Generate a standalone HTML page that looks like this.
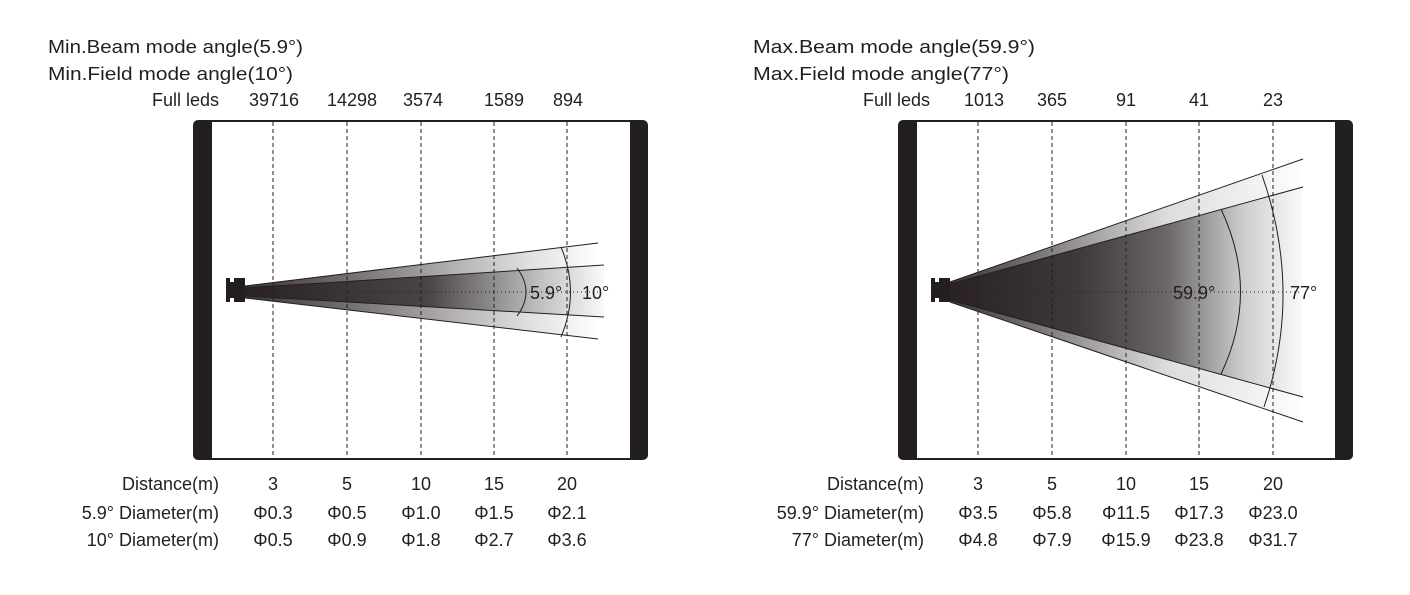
<!DOCTYPE html>
<html><head><meta charset="utf-8"><style>
html,body{margin:0;padding:0;background:#fff;}
svg{display:block;}
text{font-family:"Liberation Sans",Arial,sans-serif;font-size:18px;fill:#231f20;}
</style></head><body>
<svg width="1410" height="595" viewBox="0 0 1410 595" xmlns="http://www.w3.org/2000/svg">
<defs>
<linearGradient id="gL" gradientUnits="userSpaceOnUse" x1="245" y1="0" x2="610" y2="0">
<stop offset="0" stop-color="#2a2222"/><stop offset="0.5" stop-color="#4a4444"/><stop offset="0.8" stop-color="#bdbdbd"/><stop offset="1" stop-color="#ffffff"/></linearGradient>
<linearGradient id="gLo" gradientUnits="userSpaceOnUse" x1="245" y1="0" x2="600" y2="0">
<stop offset="0" stop-color="#3a3333"/><stop offset="0.4" stop-color="#8a8686"/><stop offset="0.8" stop-color="#e0e0e0"/><stop offset="1" stop-color="#ffffff"/></linearGradient>
<linearGradient id="gR" gradientUnits="userSpaceOnUse" x1="950" y1="0" x2="1310" y2="0">
<stop offset="0" stop-color="#2a2222"/><stop offset="0.35" stop-color="#3e3838"/><stop offset="0.6" stop-color="#6a6666"/><stop offset="0.82" stop-color="#cfcfcf"/><stop offset="1" stop-color="#ffffff"/></linearGradient>
<linearGradient id="gRo" gradientUnits="userSpaceOnUse" x1="950" y1="0" x2="1310" y2="0">
<stop offset="0" stop-color="#3a3333"/><stop offset="0.3" stop-color="#8a8686"/><stop offset="0.6" stop-color="#dcdcdc"/><stop offset="1" stop-color="#ffffff"/></linearGradient>
</defs>

<!-- LEFT PANEL -->
<text x="48" y="53" textLength="255" lengthAdjust="spacingAndGlyphs">Min.Beam mode angle(5.9°)</text>
<text x="48" y="80" textLength="245" lengthAdjust="spacingAndGlyphs">Min.Field mode angle(10°)</text>
<g text-anchor="end"><text x="219" y="106">Full leds</text>
<text x="219" y="490">Distance(m)</text>
<text x="219" y="519">5.9° Diameter(m)</text>
<text x="219" y="546">10° Diameter(m)</text></g>
<g text-anchor="middle">
<text x="274" y="106">39716</text><text x="352" y="106">14298</text><text x="423" y="106">3574</text><text x="504" y="106">1589</text><text x="568" y="106">894</text>
<text x="273" y="490">3</text><text x="347" y="490">5</text><text x="421" y="490">10</text><text x="494" y="490">15</text><text x="567" y="490">20</text>
<text x="273" y="519">Φ0.3</text><text x="347" y="519">Φ0.5</text><text x="421" y="519">Φ1.0</text><text x="494" y="519">Φ1.5</text><text x="567" y="519">Φ2.1</text>
<text x="273" y="546">Φ0.5</text><text x="347" y="546">Φ0.9</text><text x="421" y="546">Φ1.8</text><text x="494" y="546">Φ2.7</text><text x="567" y="546">Φ3.6</text>
</g>
<rect x="193" y="120" width="455" height="340" rx="5" fill="#231f20"/>
<rect x="212" y="122" width="418" height="336" fill="#fff"/>
<polygon points="245,286 598,243 598,339 245,298" fill="url(#gLo)"/>
<polygon points="245,288 604,265 604,317 245,296" fill="url(#gL)"/>
<g stroke="#231f20" stroke-width="1" fill="none">
<line x1="245" y1="286" x2="598" y2="243"/><line x1="245" y1="298" x2="598" y2="339"/>
<line x1="245" y1="288" x2="604" y2="265"/><line x1="245" y1="296" x2="604" y2="317"/>
<path d="M517,268 Q535,292 517,316"/><path d="M561,247 Q580,292 561,337"/>
<line x1="245" y1="292" x2="600" y2="292" stroke-dasharray="1,3"/>
<g stroke-dasharray="4,3"><line x1="273" y1="122" x2="273" y2="458"/><line x1="347" y1="122" x2="347" y2="458"/><line x1="421" y1="122" x2="421" y2="458"/><line x1="494" y1="122" x2="494" y2="458"/><line x1="567" y1="122" x2="567" y2="458"/></g>
</g>
<path d="M226,278 h4 v4 h4 v-4 h11 v24 h-11 v-4 h-4 v4 h-4z" fill="#231f20"/>
<text x="530" y="299">5.9°</text><text x="582" y="299">10°</text>

<!-- RIGHT PANEL -->
<text x="753" y="53" textLength="282" lengthAdjust="spacingAndGlyphs">Max.Beam mode angle(59.9°)</text>
<text x="753" y="80" textLength="256" lengthAdjust="spacingAndGlyphs">Max.Field mode angle(77°)</text>
<g text-anchor="end"><text x="930" y="106">Full leds</text>
<text x="924" y="490">Distance(m)</text>
<text x="924" y="519">59.9° Diameter(m)</text>
<text x="924" y="546">77° Diameter(m)</text></g>
<g text-anchor="middle">
<text x="984" y="106">1013</text><text x="1052" y="106">365</text><text x="1126" y="106">91</text><text x="1199" y="106">41</text><text x="1273" y="106">23</text>
<text x="978" y="490">3</text><text x="1052" y="490">5</text><text x="1126" y="490">10</text><text x="1199" y="490">15</text><text x="1273" y="490">20</text>
<text x="978" y="519">Φ3.5</text><text x="1052" y="519">Φ5.8</text><text x="1126" y="519">Φ11.5</text><text x="1199" y="519">Φ17.3</text><text x="1273" y="519">Φ23.0</text>
<text x="978" y="546">Φ4.8</text><text x="1052" y="546">Φ7.9</text><text x="1126" y="546">Φ15.9</text><text x="1199" y="546">Φ23.8</text><text x="1273" y="546">Φ31.7</text>
</g>
<rect x="898" y="120" width="455" height="340" rx="5" fill="#231f20"/>
<rect x="917" y="122" width="418" height="336" fill="#fff"/>
<polygon points="950,282 1303,159 1303,422 950,302" fill="url(#gRo)"/>
<polygon points="950,284 1303,187 1303,397 950,300" fill="url(#gR)"/>
<g stroke="#231f20" stroke-width="1" fill="none">
<line x1="950" y1="282" x2="1303" y2="159"/><line x1="950" y1="302" x2="1303" y2="422"/>
<line x1="950" y1="284" x2="1303" y2="187"/><line x1="950" y1="300" x2="1303" y2="397"/>
<path d="M1221,209 Q1260,292 1221,374"/><path d="M1262,175 Q1303,292 1264,407"/>
<line x1="950" y1="292" x2="1300" y2="292" stroke-dasharray="1,3"/>
<g stroke-dasharray="4,3"><line x1="978" y1="122" x2="978" y2="458"/><line x1="1052" y1="122" x2="1052" y2="458"/><line x1="1126" y1="122" x2="1126" y2="458"/><line x1="1199" y1="122" x2="1199" y2="458"/><line x1="1273" y1="122" x2="1273" y2="458"/></g>
</g>
<path d="M931,278 h4 v4 h4 v-4 h11 v24 h-11 v-4 h-4 v4 h-4z" fill="#231f20"/>
<text x="1173" y="299">59.9°</text><text x="1290" y="299">77°</text>
</svg>
</body></html>
